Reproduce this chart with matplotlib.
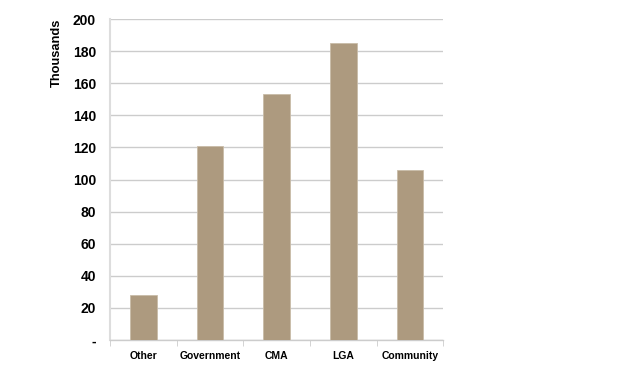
import numpy as np
import matplotlib
matplotlib.use("Agg")
import matplotlib.pyplot as plt

categories = ["Other", "Government", "CMA", "LGA", "Community"]
values = [28, 121, 153, 185, 106]
yticks = [0, 20, 40, 60, 80, 100, 120, 140, 160, 180, 200]
ytick_labels = ["-"] + [str(v) for v in yticks[1:]]

plt.rcParams['font.family'] = ['Liberation Sans', 'DejaVu Sans']

fig = plt.figure(figsize=(6.34, 3.77), dpi=100)
ax = fig.add_axes([0.1735, 0.0981, 0.5255, 0.8515])

x = np.arange(len(categories))
ax.bar(x, values, width=0.4, color="#ad9a7f", edgecolor="#c9bca8", linewidth=0.6, zorder=3)

ax.set_xlim(-0.5, len(categories) - 0.5)
ax.set_ylim(0, 200)
ax.set_yticks(yticks)
ax.set_yticklabels(ytick_labels, fontsize=10, fontweight="bold")
ax.set_xticks(x)
ax.set_xticklabels(categories, fontsize=7.5, fontweight="bold")
ax.tick_params(axis="x", length=0, pad=8)
ax.tick_params(axis="y", length=0, pad=10)
# category separator ticks
ax.set_xticks(np.arange(-0.5, len(categories)), minor=True)
ax.tick_params(axis="x", which="minor", length=4, color="#cccccc", direction="out")

ax.yaxis.grid(True, color="#cccccc", linewidth=1, zorder=0)
for s in ["top", "right"]:
    ax.spines[s].set_visible(False)
ax.spines["left"].set_color("#dddddd")
ax.spines["left"].set_linewidth(1.5)
ax.spines["bottom"].set_color("#cccccc")
ax.spines["bottom"].set_linewidth(1)

ax.set_ylabel("Thousands", fontsize=9.3, fontweight="bold", loc="top")
ax.yaxis.set_label_coords(-0.14, 1.0)

fig.savefig("out.png", dpi=100)
